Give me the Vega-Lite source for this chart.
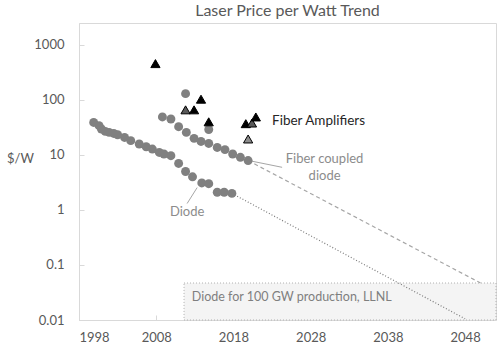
{
  "$schema": "https://vega.github.io/schema/vega-lite/v6.json",
  "width": 417,
  "height": 297,
  "autosize": {"type": "none"},
  "padding": {"left": 79, "top": 23, "right": 4, "bottom": 33},
  "background": "white",
  "title": {"text": "Laser Price per Watt Trend", "font": "Lato", "fontSize": 16, "fontWeight": "normal", "color": "#595959", "anchor": "middle", "offset": 4},
  "config": {
    "view": {"stroke": "#d9d9d9", "strokeWidth": 1},
    "axis": {"grid": false, "domainColor": "#d9d9d9", "tickColor": "#d9d9d9", "labelFont": "Lato", "labelFontSize": 13, "labelColor": "#595959", "titleFont": "Lato", "titleFontSize": 13, "titleColor": "#595959", "titleFontWeight": "normal"}
  },
  "datasets": {
    "box": [{"year": 2011.6, "year2": 2052, "price": 0.047, "price2": 0.01}],
    "trend_diode": [{"year": 2017.8, "price": 2.0}, {"year": 2048, "price": 0.0105}],
    "trend_fiber": [{"year": 2019.9, "price": 7.9}, {"year": 2050, "price": 0.047}],
    "leaders": [
      {"year": 2012.0, "price": 1.31, "year2": 2013.3, "price2": 2.55},
      {"year": 2020.0, "price": 7.9, "year2": 2024.3, "price2": 5.96}
    ],
    "circles": [
      {"series": "Diode", "year": 1999.9, "price": 39},
      {"series": "Diode", "year": 2000.6, "price": 34},
      {"series": "Diode", "year": 2000.9, "price": 29.6},
      {"series": "Diode", "year": 2001.4, "price": 26.8},
      {"series": "Diode", "year": 2001.9, "price": 25.7},
      {"series": "Diode", "year": 2002.5, "price": 24.6},
      {"series": "Diode", "year": 2003.0, "price": 23.3},
      {"series": "Diode", "year": 2003.9, "price": 20.8},
      {"series": "Diode", "year": 2004.7, "price": 18.2},
      {"series": "Diode", "year": 2005.8, "price": 15.8},
      {"series": "Diode", "year": 2006.7, "price": 14.1},
      {"series": "Diode", "year": 2007.5, "price": 12.8},
      {"series": "Diode", "year": 2008.4, "price": 11.1},
      {"series": "Diode", "year": 2009.0, "price": 10.4},
      {"series": "Diode", "year": 2009.9, "price": 9.7},
      {"series": "Diode", "year": 2010.9, "price": 7.0},
      {"series": "Diode", "year": 2011.8, "price": 5.0},
      {"series": "Diode", "year": 2012.7, "price": 4.0},
      {"series": "Diode", "year": 2013.9, "price": 3.1},
      {"series": "Diode", "year": 2014.8, "price": 3.0},
      {"series": "Diode", "year": 2015.9, "price": 2.1},
      {"series": "Diode", "year": 2016.8, "price": 2.1},
      {"series": "Diode", "year": 2017.8, "price": 2.0},
      {"series": "Fiber coupled", "year": 2008.8, "price": 49},
      {"series": "Fiber coupled", "year": 2009.9, "price": 45},
      {"series": "Fiber coupled", "year": 2010.9, "price": 32.6},
      {"series": "Fiber coupled", "year": 2011.9, "price": 25.7},
      {"series": "Fiber coupled", "year": 2012.9, "price": 20},
      {"series": "Fiber coupled", "year": 2013.8, "price": 17.6},
      {"series": "Fiber coupled", "year": 2014.8, "price": 16.2},
      {"series": "Fiber coupled", "year": 2015.9, "price": 13.7},
      {"series": "Fiber coupled", "year": 2016.9, "price": 12.5},
      {"series": "Fiber coupled", "year": 2017.9, "price": 10.4},
      {"series": "Fiber coupled", "year": 2018.9, "price": 9.06},
      {"series": "Fiber coupled", "year": 2019.9, "price": 7.9},
      {"series": "Other", "year": 2011.8, "price": 130},
      {"series": "Other", "year": 2014.8, "price": 29}
    ],
    "amps": [
      {"kind": "black", "year": 2007.9, "price": 457},
      {"kind": "black", "year": 2013.8, "price": 103},
      {"kind": "dark", "year": 2011.8, "price": 66},
      {"kind": "black", "year": 2012.9, "price": 66},
      {"kind": "black", "year": 2014.8, "price": 40},
      {"kind": "black", "year": 2019.6, "price": 37},
      {"kind": "dark", "year": 2020.4, "price": 38},
      {"kind": "black", "year": 2020.9, "price": 49},
      {"kind": "grey", "year": 2019.9, "price": 19.5}
    ],
    "labels": [
      {"kind": "amp", "text": "Fiber Amplifiers", "year": 2023.0, "price": 41.8},
      {"kind": "grey", "text": "Fiber coupled", "year": 2029.8, "price": 8.57},
      {"kind": "grey", "text": "diode", "year": 2029.8, "price": 4.22},
      {"kind": "grey", "text": "Diode", "year": 2012.0, "price": 0.9},
      {"kind": "box", "text": "Diode for 100 GW production, LLNL", "year": 2012.6, "price": 0.0257}
    ]
  },
  "encoding": {
    "x": {"field": "year", "type": "quantitative", "scale": {"domain": [1998, 2052], "nice": false, "zero": false},
          "axis": {"values": [1998, 2008, 2018, 2028, 2038, 2048], "format": "d", "title": null, "tickSize": -5, "labelPadding": 16}},
    "y": {"field": "price", "type": "quantitative", "scale": {"type": "log", "domain": [0.01, 2500], "nice": false},
          "axis": {"values": [0.01, 0.1, 1, 10, 100, 1000], "format": "~g", "title": "$/W", "titleAngle": 0, "titleAlign": "center", "titleBaseline": "middle", "titleX": -59, "titleY": 135, "tickSize": -5, "labelPadding": 20}}
  },
  "layer": [
    {"data": {"name": "box"}, "mark": {"type": "rect", "fill": "#f4f4f4", "stroke": "#b0b0b0", "strokeWidth": 1, "strokeDash": [1, 2]},
     "encoding": {"x2": {"field": "year2"}, "y2": {"field": "price2"}}},
    {"data": {"name": "trend_diode"}, "mark": {"type": "line", "color": "#7a7a7a", "strokeWidth": 1.2, "strokeDash": [1, 2]}, "encoding": {}},
    {"data": {"name": "trend_fiber"}, "mark": {"type": "line", "color": "#a6a6a6", "strokeWidth": 1.2, "strokeDash": [4, 3]}, "encoding": {}},
    {"data": {"name": "leaders"}, "mark": {"type": "rule", "color": "#a6a6a6", "strokeWidth": 1},
     "encoding": {"x2": {"field": "year2"}, "y2": {"field": "price2"}}},
    {"data": {"name": "circles"}, "mark": {"type": "point", "shape": "circle", "filled": true, "size": 80, "color": "#808080", "opacity": 1}, "encoding": {}},
    {"data": {"name": "amps"}, "mark": {"type": "point", "shape": "triangle-up", "filled": true, "size": 85, "stroke": "#000000", "strokeWidth": 1, "opacity": 1},
     "encoding": {"fill": {"field": "kind", "type": "nominal", "scale": {"domain": ["black", "dark", "grey"], "range": ["#000000", "#595959", "#8c8c8c"]}, "legend": null}}},
    {"data": {"name": "labels"}, "transform": [{"filter": "datum.kind === 'amp'"}],
     "mark": {"type": "text", "align": "left", "baseline": "middle", "font": "Lato", "fontSize": 13.5, "color": "#262626"},
     "encoding": {"text": {"field": "text"}}},
    {"data": {"name": "labels"}, "transform": [{"filter": "datum.kind === 'grey'"}],
     "mark": {"type": "text", "align": "center", "baseline": "middle", "font": "Lato", "fontSize": 13, "color": "#8c8c8c"},
     "encoding": {"text": {"field": "text"}}},
    {"data": {"name": "labels"}, "transform": [{"filter": "datum.kind === 'box'"}],
     "mark": {"type": "text", "align": "left", "baseline": "middle", "font": "Lato", "fontSize": 12.5, "color": "#7f7f7f"},
     "encoding": {"text": {"field": "text"}}}
  ]
}
